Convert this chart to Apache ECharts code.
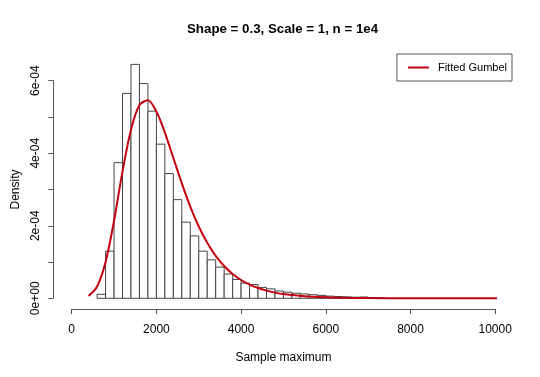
<!DOCTYPE html>
<html>
<head>
<meta charset="utf-8">
<script src="https://cdn.jsdelivr.net/npm/echarts@6/dist/echarts.min.js"></script>
<style>
  html, body { margin: 0; padding: 0; background: #fff; }
  #main { width: 540px; height: 377px; }
</style>
</head>
<body>
<div id="main"></div>
<script>
// histogram bins (width 200), density per bin
var binStart = [600, 800, 1000, 1200, 1400, 1600, 1800, 2000, 2200, 2400, 2600, 2800, 3000, 3200,
  3400, 3600, 3800, 4000, 4200, 4400, 4600, 4800, 5000, 5200, 5400, 5600, 5800, 6000, 6200,
  6400, 6600, 6800, 7000, 7200];
var binWidth = 200;
var density = [0.11e-4, 1.30e-4, 3.74e-4, 5.65e-4, 6.45e-4, 5.92e-4, 5.16e-4, 4.25e-4, 3.44e-4,
  2.72e-4, 2.10e-4, 1.72e-4, 1.30e-4, 1.06e-4, 0.86e-4, 0.67e-4, 0.52e-4, 0.42e-4, 0.38e-4,
  0.30e-4, 0.26e-4, 0.20e-4, 0.17e-4, 0.14e-4, 0.12e-4, 0.10e-4, 0.08e-4, 0.06e-4, 0.05e-4,
  0.04e-4, 0.03e-4, 0.035e-4, 0.02e-4, 0.015e-4];

// fitted gumbel curve
var curveX = [400, 600, 800, 1000, 1200, 1400, 1600, 1800, 2000, 2200, 2400, 2600, 2800, 3000,
  3200, 3400, 3600, 3800, 4000, 4200, 4400, 4600, 4800, 5000, 5500, 6000, 6500, 7000, 8000,
  9000, 10400];
var curveY = [0.064e-4, 0.325e-4, 1.00e-4, 2.14e-4, 3.50e-4, 4.65e-4, 5.33e-4, 5.46e-4, 5.15e-4,
  4.57e-4, 3.87e-4, 3.17e-4, 2.53e-4, 1.98e-4, 1.53e-4, 1.17e-4, 0.89e-4, 0.671e-4, 0.505e-4,
  0.378e-4, 0.283e-4, 0.211e-4, 0.157e-4, 0.117e-4, 0.056e-4, 0.027e-4, 0.0127e-4, 0.006e-4,
  0.0013e-4, 0.0003e-4, 0.00003e-4];

var yTickLabels = ['0e+00', '', '2e-04', '', '4e-04', '', '6e-04'];

var font = 'Liberation Sans, Arial, sans-serif';

var histData = binStart.map(function (s, i) { return [s, s + binWidth, density[i]]; });
var lineData = curveX.map(function (x, i) { return [x, curveY[i]]; });

var chart = echarts.init(document.getElementById('main'));
chart.setOption({
  animation: false,
  backgroundColor: '#fff',
  graphic: [{
    type: 'text',
    left: 283 - 96,
    top: 23,
    style: {
      text: 'Shape = 0.3, Scale = 1, n = 1e4',
      font: 'bold 13.3px ' + font,
      fill: '#000'
    }
  }],
  legend: {
    data: ['Fitted Gumbel'],
    right: 28,
    top: 54,
    orient: 'vertical',
    icon: 'rect',
    itemWidth: 21,
    itemHeight: 2,
    padding: [8, 5, 8, 11],
    borderColor: '#555',
    borderWidth: 1,
    borderRadius: 0,
    textStyle: { fontFamily: font, fontSize: 11, color: '#000', padding: [0, 0, 0, 4] }
  },
  grid: { left: 71.7, right: 44.8, top: 80.7, bottom: 78.7 },
  xAxis: {
    type: 'value',
    min: 0, max: 10000, interval: 2000,
    offset: 10.7,
    name: 'Sample maximum',
    nameLocation: 'middle',
    nameGap: 43,
    nameTextStyle: { fontFamily: font, fontSize: 12, color: '#000' },
    axisLine: { show: true, onZero: false, lineStyle: { color: '#555', width: 1 } },
    axisTick: { show: true, length: 5, lineStyle: { color: '#555' } },
    axisLabel: {
      fontFamily: font, fontSize: 12, color: '#000', margin: 15,
      formatter: function (v) { return String(v); }
    },
    splitLine: { show: false }
  },
  yAxis: {
    type: 'value',
    min: 0, max: 6e-4, interval: 1e-4,
    offset: 18.4,
    name: 'Density',
    nameLocation: 'middle',
    nameGap: 29,
    nameRotate: 90,
    nameTextStyle: { fontFamily: font, fontSize: 12, color: '#000' },
    axisLine: { show: true, onZero: false, lineStyle: { color: '#555', width: 1 } },
    axisTick: { show: true, length: 5, lineStyle: { color: '#555' } },
    axisLabel: {
      fontFamily: font, fontSize: 12, color: '#000', margin: 12, rotate: 90,
      formatter: function (v) { return yTickLabels[Math.round(v / 1e-4)]; }
    },
    splitLine: { show: false }
  },
  series: [
    {
      type: 'custom',
      name: 'hist',
      clip: false,
      data: histData,
      renderItem: function (params, api) {
        var p0 = api.coord([api.value(0), api.value(2)]);
        var p1 = api.coord([api.value(1), 0]);
        return {
          type: 'rect',
          shape: { x: p0[0], y: p0[1], width: p1[0] - p0[0], height: p1[1] - p0[1] },
          style: { fill: '#fff', stroke: '#444', lineWidth: 1 }
        };
      }
    },
    {
      type: 'line',
      name: 'Fitted Gumbel',
      data: lineData,
      smooth: 0.3,
      clip: false,
      showSymbol: false,
      symbol: 'none',
      color: '#c40010',
      lineStyle: { color: '#c40010', width: 2 }
    }
  ]
});
</script>
</body>
</html>
